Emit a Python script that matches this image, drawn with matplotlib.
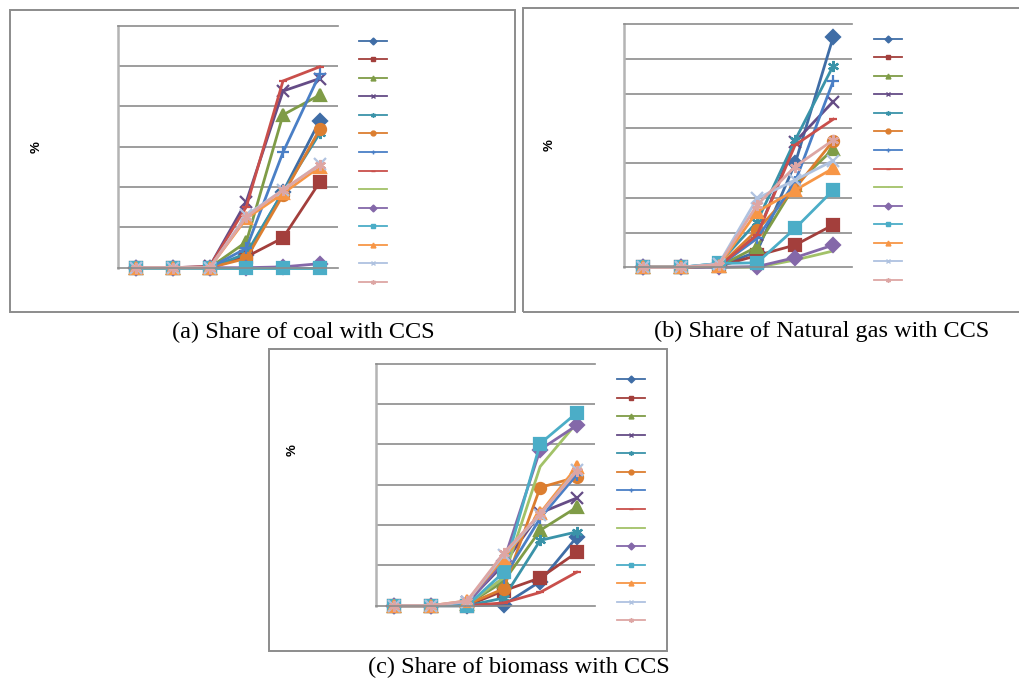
import matplotlib
matplotlib.use("Agg")
import matplotlib.pyplot as plt
from matplotlib.lines import Line2D
from matplotlib.patches import Rectangle


# ----------------------------
# DATA (% share)
# ----------------------------
periods = [1, 2, 3, 4, 5, 6]   # category axis has no labels in the source

coal_ccs = [
    [0, 0, 0, 3.1, 18.8, 36.4],
    [0, 0, 0, 2.7, 7.4, 21.2],
    [0, 0, 0, 6.4, 37.9, 42.8],
    [0, 0, 0.3, 16.4, 43.8, 46.9],
    [0, 0, 0, 3.5, 18.8, 33.3],
    [0, 0, 0, 2.3, 18.0, 34.3],
    [0, 0, 0, 4.8, 28.6, 48.0],
    [0, 0, 0.3, 15.1, 46.3, 49.8],
    [0, 0, 0, 0, 0, 0],
    [0, 0, 0, 0, 0.2, 1.0],
    [0, 0, 0, 0, 0, 0],
    [0, 0, 0, 12.2, 18.4, 25.0],
    [0, 0, 0, 13.0, 19.3, 25.6],
    [0, 0, 0, 12.6, 19.3, 25.5],
]

gas_ccs = [
    [0, 0, 0.3, 4.5, 29.9, 66.3],
    [0, 0, 0.3, 3.4, 6.4, 12.2],
    [0, 0, 0.3, 5.9, 23.7, 34.0],
    [0, 0, 0.3, 9.3, 36.1, 47.7],
    [0, 0, 1.1, 13.1, 36.6, 58.0],
    [0, 0, 0.3, 10.7, 22.7, 36.4],
    [0, 0, 0.3, 8.3, 24.6, 53.6],
    [0, 0, 0.3, 9.3, 35.2, 42.6],
    [0, 0, 0, 0, 2.1, 4.7],
    [0, 0, 0, 0.2, 2.8, 6.4],
    [0, 0, 1.1, 1.3, 11.2, 22.2],
    [0, 0, 0.5, 16.0, 22.2, 28.5],
    [0, 0, 1.0, 19.8, 25.1, 30.7],
    [0, 0, 0.8, 17.9, 29.0, 36.6],
]

biomass_ccs = [
    [0, 0, 0, 0.2, 6.0, 17.0],
    [0, 0, 0, 3.7, 6.9, 13.2],
    [0, 0, 0.3, 6.0, 18.7, 24.4],
    [0, 0, 0.8, 10.2, 23.0, 26.7],
    [0, 0, 0, 1.9, 16.2, 18.3],
    [0, 0, 0.3, 4.2, 29.3, 31.9],
    [0, 0, 0.3, 6.9, 21.7, 32.5],
    [0, 0, 0, 0.7, 3.3, 8.3],
    [0, 0, 0.3, 6.9, 34.5, 45.3],
    [0, 0, 0.5, 11.0, 38.7, 44.7],
    [0, 0, 0, 8.3, 40.2, 47.8],
    [0, 0, 1.2, 11.8, 23.0, 34.4],
    [0, 0, 1.0, 12.6, 22.6, 33.6],
    [0, 0, 1.2, 13.0, 22.8, 33.3],
]

captions = [
    "(a) Share of coal with CCS",
    "(b) Share of Natural gas with CCS",
    "(c) Share of biomass with CCS",
]

# ----------------------------
# STYLE (Excel-like series look)
# ----------------------------
STAR = (6, 2, 0)
colors = ["#3F6DA6", "#A33F3C", "#7F9C47", "#654C86", "#3A93A9", "#DC7E30",
          "#4A7FC6", "#C94F4B", "#A2C268", "#8468A9", "#4BADC7", "#F79646",
          "#AFC2E0", "#DDA6A4"]
markers = ["D", "s", "^", "x", STAR, "o", "+", "_", "_", "D", "s", "^", "x", STAR]
msizes = [7, 8, 8, 8, 8, 8, 9, 6, 0.1, 7, 8, 8, 8, 8]

GRID = "#8C8C8C"
AXIS = "#B4B4B4"
BOX = "#8C8C8C"
DPI = 100
W, H = 1019, 679


def fx(px):
    return px / W


def fy(py):
    return 1 - py / H


# ----------------------------
# One panel
# ----------------------------
def draw_panel(fig, rect, data, ymax, leg_xy):
    left, top, right, bottom = rect
    ax = fig.add_axes([fx(left), fy(bottom), fx(right - left), (bottom - top) / H])
    x = list(range(len(periods)))
    for i, vals in enumerate(data):
        ax.plot(x, vals, color=colors[i], lw=2.0, marker=markers[i],
                ms=msizes[i], mew=1.6, mec=colors[i], mfc=colors[i],
                solid_joinstyle="miter", clip_on=False)
    ax.set_xlim(-0.5, len(periods) - 0.5)
    ax.set_ylim(0, ymax)
    ax.set_yticks(range(10, ymax, 10))
    ax.set_xticks([])
    ax.tick_params(left=False, labelleft=False)
    ax.yaxis.grid(True, color=GRID, lw=1.2)
    ax.set_axisbelow(True)
    for side in ["top", "bottom"]:
        ax.spines[side].set_color(GRID)
        ax.spines[side].set_linewidth(1.2)
    ax.spines["right"].set_visible(False)
    ax.spines["left"].set_color(AXIS)
    ax.spines["left"].set_linewidth(1.8)
    ax.patch.set_alpha(0)

    # legend with markers only (series names not shown in the source)
    handles = [Line2D([], [], color=colors[i], lw=1.3, marker=markers[i],
                      ms=3.5 if msizes[i] > 1 else 0.1, mew=1.0)
               for i in range(len(data))]
    fig.legend(handles, [""] * len(handles), loc="upper left",
               bbox_to_anchor=(fx(leg_xy[0]), fy(leg_xy[1])),
               bbox_transform=fig.transFigure, frameon=False, fontsize=8,
               handlelength=2.5, handletextpad=0.2, borderpad=0,
               borderaxespad=0, labelspacing=0.77)
    return ax


def panel_box(fig, l, t, r, b):
    fig.add_artist(Rectangle((fx(l), fy(b)), fx(r - l), (b - t) / H,
                             transform=fig.transFigure, fill=False,
                             ec=BOX, lw=1.4))


# ----------------------------
# MAIN
# ----------------------------
if __name__ == "__main__":
    fig = plt.figure(figsize=(W / DPI, H / DPI), dpi=DPI)

    panel_box(fig, 10, 10.5, 514.5, 312.5)
    panel_box(fig, 522.5, 8, 1025, 312.5)
    panel_box(fig, 268.5, 349, 667, 650.5)

    draw_panel(fig, (118, 25.7, 338, 267.7), coal_ccs, 60, (359, 36.5))
    draw_panel(fig, (623.7, 24, 852.3, 267.3), gas_ccs, 70, (874.3, 34.5))
    draw_panel(fig, (375.7, 363.7, 595, 605.7), biomass_ccs, 60, (617, 375))

    for xy in [(36.7, 147), (549.3, 145), (293, 450.3)]:
        fig.text(fx(xy[0]), fy(xy[1]), "%", rotation=90, ha="center",
                 va="center", fontsize=9.5, fontweight="bold",
                 family="Liberation Sans")

    for txt, xy in zip(captions, [(303.5, 332), (822, 331), (518.5, 667)]):
        fig.text(fx(xy[0]), fy(xy[1]), txt, ha="center", va="center",
                 fontsize=17.5, family="Liberation Serif")

    fig.savefig("out.png", dpi=DPI)
    print("saved out.png")
